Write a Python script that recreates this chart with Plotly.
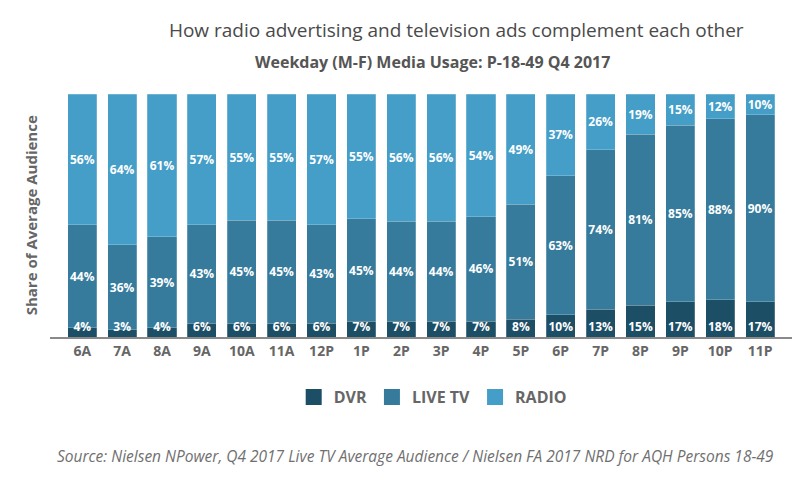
import plotly.graph_objects as go

hours = ["6A", "7A", "8A", "9A", "10A", "11A", "12P", "1P", "2P", "3P", "4P", "5P",
         "6P", "7P", "8P", "9P", "10P", "11P"]
dvr = [4, 3, 4, 6, 6, 6, 6, 7, 7, 7, 7, 8, 10, 13, 15, 17, 18, 17]
live_tv = [44, 36, 39, 43, 45, 45, 43, 45, 44, 44, 46, 51, 63, 74, 81, 85, 88, 90]
radio = [56, 64, 61, 57, 55, 55, 57, 55, 56, 56, 54, 49, 37, 26, 19, 15, 12, 10]

DVR_LABEL_Y = 3.8  # label baseline position (percent of bar height)

series = [
    ("DVR", dvr, "#1c4e66"),
    ("LIVE TV", live_tv, "#367b9c"),
    ("RADIO", radio, "#449ec8"),
]

label_font = dict(family="Open Sans", size=12, color="white", weight="bold")

fig = go.Figure()
for name, vals, color in series:
    is_dvr = name == "DVR"
    fig.add_trace(go.Bar(
        x=hours, y=vals, name=name, showlegend=False,
        marker=dict(color=color, line=dict(width=0.6, color="rgba(255,255,255,0.35)")),
        text=None if is_dvr else [f"{v}%" for v in vals],
        textposition="none" if is_dvr else "inside",
        insidetextanchor="middle",
        textangle=0,
        textfont=label_font,
        hoverinfo="skip",
    ))
# DVR labels drawn on top so they can overflow small segments
fig.add_trace(go.Scatter(
    x=hours, y=[DVR_LABEL_Y] * len(hours), mode="text",
    text=[f"{v}%" for v in dvr], textposition="middle center",
    textfont=label_font, showlegend=False, hoverinfo="skip", cliponaxis=False,
))
# legend entries (square swatches)
for name, vals, color in series:
    fig.add_trace(go.Scatter(
        x=[None], y=[None], mode="markers", name=name,
        marker=dict(symbol="square", size=18, color=color),
        hoverinfo="skip",
    ))

fig.update_layout(
    barmode="stack",
    barnorm="percent",
    bargap=0.27,
    width=792, height=470,
    margin=dict(l=42, r=4, t=86, b=141),
    paper_bgcolor="white",
    plot_bgcolor="white",
    uniformtext=dict(minsize=12, mode="show"),
    showlegend=True,
    legend=dict(orientation="h", x=0.513, xanchor="center", y=-0.247, yanchor="middle",
                font=dict(family="Open Sans", size=16, color="#666666", weight="bold"),
                traceorder="normal", itemsizing="trace", itemwidth=30),
    title=dict(text="How radio advertising and television ads complement each other",
               x=0.566, xanchor="center", xref="container",
               y=0.953, yanchor="middle", yref="container",
               font=dict(family="Open Sans", size=19, color="#4a4a4a")),
    xaxis=dict(range=[-0.81, 17.9], showgrid=False, showline=True, linecolor="#8a8a8a",
               linewidth=2, ticks="", tickfont=dict(family="Open Sans", size=14, color="#666666", weight="bold"),
               fixedrange=True),
    yaxis=dict(range=[0, 100], showgrid=False, showticklabels=False, zeroline=False,
               showline=False, fixedrange=True),
    annotations=[
        dict(text="Weekday (M-F) Media Usage: P-18-49 Q4 2017", xref="paper", yref="paper",
             x=0.513, y=1.132, xanchor="center", yanchor="middle", showarrow=False,
             font=dict(family="Open Sans", size=16, color="#555555", weight="bold")),
        dict(text="Share of Average Audience", xref="paper", yref="paper",
             x=-0.025, y=0.502, xanchor="center", yanchor="middle", showarrow=False,
             textangle=-90,
             font=dict(family="Open Sans", size=15, color="#666666", weight="bold")),
        dict(text="<i>Source: Nielsen NPower, Q4 2017 Live TV Average Audience / Nielsen FA 2017 NRD for AQH Persons 18-49</i>",
             xref="paper", yref="paper", x=0.49, y=-0.49, xanchor="center", yanchor="middle",
             showarrow=False,
             font=dict(family="Open Sans", size=15.5, color="#707070")),
    ],
)

fig.write_html("out.html")
